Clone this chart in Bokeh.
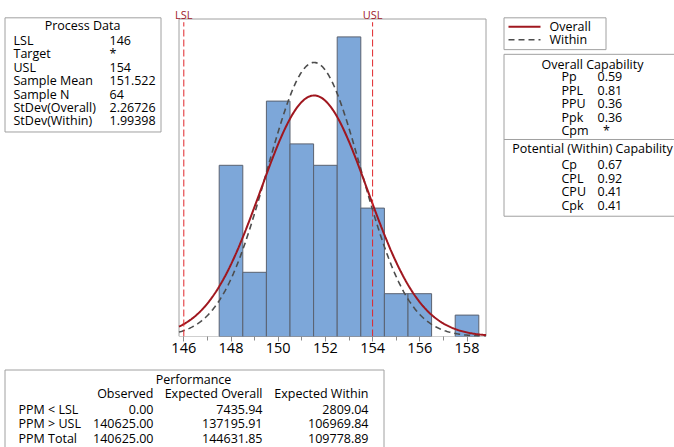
import numpy as np
from bokeh.plotting import figure
from bokeh.layouts import row, column
from bokeh.models import FixedTicker, ColumnDataSource, Range1d
from bokeh.core.properties import value
from bokeh.embed import file_html
from bokeh.resources import INLINE

# ---------------- data ----------------
bin_centers = [148, 149, 150, 151, 152, 153, 154, 155, 156, 157, 158]
bin_counts = [8, 3, 11, 9, 8, 14, 6, 2, 2, 0, 1]
bin_width = 1.0

spec_names = ["LSL", "USL"]
spec_values = [146, 154]
sample_mean = 151.522
sample_n = 64
stdev_overall = 2.26726
stdev_within = 1.99398

process_labels = ["LSL", "Target", "USL", "Sample Mean", "Sample N", "StDev(Overall)", "StDev(Within)"]
process_values = ["146", "*", "154", "151.522", "64", "2.26726", "1.99398"]

legend_labels = ["Overall", "Within"]

overall_labels = ["Pp", "PPL", "PPU", "Ppk", "Cpm"]
overall_values = ["0.59", "0.81", "0.36", "0.36", "*"]
within_labels = ["Cp", "CPL", "CPU", "Cpk"]
within_values = ["0.67", "0.92", "0.41", "0.41"]

perf_columns = ["Observed", "Expected Overall", "Expected Within"]
perf_rows = ["PPM < LSL", "PPM > USL", "PPM Total"]
perf_observed = ["0.00", "140625.00", "140625.00"]
perf_exp_overall = ["7435.94", "137195.91", "144631.85"]
perf_exp_within = ["2809.04", "106969.84", "109778.89"]

x_ticks = [146, 148, 150, 152, 154, 156, 158]
x_minor_ticks = [147, 149, 151, 153, 155, 157]

FONT = "Open Sans"
FS = "12.5px"
TXT = "#000000"
BORDER = "#a0a0a0"
C_OVER = "#A0171F"
C_WITH = "#4d4d4d"

W, H = 674, 447
FRAME_L, FRAME_R, FRAME_T, FRAME_B = 165, 490, 0, 336
TOP_H = 359


def panel(x0, x1, y0, y1):
    """Plain drawing panel whose data coordinates equal page pixel coordinates."""
    f = figure(output_backend="svg", toolbar_location=None,
               width=x1 - x0, height=y1 - y0,
               x_range=Range1d(x0, x1), y_range=Range1d(y1, y0),
               x_axis_location=None, y_axis_location=None,
               min_border=0, min_border_left=0, min_border_right=0,
               min_border_top=0, min_border_bottom=0)
    f.xgrid.visible = False
    f.ygrid.visible = False
    f.outline_line_color = None
    f.background_fill_color = "white"
    f.border_fill_color = "white"
    return f


def texts(f, xs, ys, labels, align="left", size=FS, color=TXT):
    f.text(x=xs, y=ys, text=labels, text_align=align, text_baseline="middle",
           text_font=value(FONT), text_font_size=size, text_color=color)


def box(f, l, t, r, b):
    f.quad(left=[l], right=[r], top=[t], bottom=[b], fill_color=None,
           line_color=BORDER, line_width=1)


# ---------------- histogram panel ----------------
PX_PER_X = 23.6
PX_PER_Y = 21.4
X0 = 146 - (183.3 - FRAME_L) / PX_PER_X
X1 = X0 + (FRAME_R - FRAME_L) / PX_PER_X
Y1 = (FRAME_B - FRAME_T) / PX_PER_Y
OUT_L = X0 + (178.5 - FRAME_L) / PX_PER_X
OUT_R = X0 + (485.5 - FRAME_L) / PX_PER_X
OUT_T = (FRAME_B - 18.5) / PX_PER_Y

p = figure(output_backend="svg", toolbar_location=None,
           frame_width=FRAME_R - FRAME_L, frame_height=FRAME_B - FRAME_T,
           min_border_left=0, min_border_right=0, min_border_top=0,
           min_border_bottom=TOP_H - FRAME_B,
           x_range=Range1d(X0, X1), y_range=Range1d(0, Y1),
           y_axis_location=None)
p.xgrid.visible = False
p.ygrid.visible = False
p.outline_line_color = None
p.background_fill_color = "white"
p.border_fill_color = "white"

ax = p.xaxis[0]
ax.ticker = FixedTicker(ticks=x_ticks, minor_ticks=x_minor_ticks)
ax.axis_line_color = None
ax.major_tick_line_color = "#8c8c8c"
ax.minor_tick_line_color = "#8c8c8c"
ax.major_tick_in = 0
ax.major_tick_out = 5
ax.minor_tick_in = 0
ax.minor_tick_out = 4
ax.major_label_standoff = 1
ax.major_label_text_font = FONT
ax.major_label_text_font_size = "14.5px"
ax.major_label_text_color = TXT

# plot outline box (top at page y 18)
p.quad(left=[OUT_L], right=[OUT_R], top=[OUT_T], bottom=[0], fill_color=None,
       line_color=BORDER, line_width=1)

cx = [c for c, n in zip(bin_centers, bin_counts) if n > 0]
cn = [n for n in bin_counts if n > 0]
src = ColumnDataSource(dict(left=[c - bin_width / 2 for c in cx],
                            right=[c + bin_width / 2 for c in cx], top=cn))
p.quad(left="left", right="right", top="top", bottom=0, source=src,
       fill_color="#7DA7D9", line_color="#5a6270", line_width=1)

# fitted normal curves (from the sample statistics)
xs = np.linspace(OUT_L, OUT_R, 300)
scale = sample_n * bin_width
y_over = scale * np.exp(-0.5 * ((xs - sample_mean) / stdev_overall) ** 2) / (stdev_overall * np.sqrt(2 * np.pi))
y_with = scale * np.exp(-0.5 * ((xs - sample_mean) / stdev_within) ** 2) / (stdev_within * np.sqrt(2 * np.pi))
p.line(xs, y_with, line_color=C_WITH, line_width=1.6, line_dash="6 4")
p.line(xs, y_over, line_color=C_OVER, line_width=2)

# spec limits
p.segment(x0=spec_values, x1=spec_values, y0=[0] * 2, y1=[OUT_T - 0.15] * 2,
          line_color="#E0262B", line_width=1, line_dash="7 3")
p.text(x=spec_values, y=[(FRAME_B - 13.5) / PX_PER_Y] * 2, text=spec_names,
       text_align="center", text_baseline="alphabetic", text_font=value(FONT),
       text_font_size="11px", text_color="#A0202A")

# ---------------- left panel: Process Data ----------------
A = panel(0, FRAME_L, 0, TOP_H)
box(A, 4.5, 18.5, 160.5, 140.5)
texts(A, [82], [26.5], ["Process Data"], align="center")
rows_y = [43, 57, 71.5, 86, 100, 114, 128.5]
texts(A, [13] * len(rows_y), rows_y, process_labels)
texts(A, [109] * len(rows_y), rows_y, process_values)

# ---------------- right panel: legend + capability ----------------
C = panel(FRAME_R, W, 0, TOP_H)
box(C, 503.5, 18.5, 605.5, 52.5)
C.line(x=[508, 540], y=[28, 28], line_color=C_OVER, line_width=2)
C.line(x=[508, 540], y=[42, 42], line_color=C_WITH, line_width=1.6, line_dash="6 4")
texts(C, [549, 549], [27.5, 42], legend_labels)

box(C, 503.5, 57.5, 690, 230.5)
C.segment(x0=[503.5], x1=[690], y0=[148.5], y1=[148.5], line_color=BORDER, line_width=1)
texts(C, [592], [68], ["Overall Capability"], align="center")
oy = [81, 96, 110, 125, 139]
texts(C, [561] * 5, oy, overall_labels)
num_idx = [i for i, v in enumerate(overall_values) if v != "*"]
star_idx = [i for i, v in enumerate(overall_values) if v == "*"]
texts(C, [597] * len(num_idx), [oy[i] for i in num_idx], [overall_values[i] for i in num_idx])
texts(C, [606] * len(star_idx), [oy[i] for i in star_idx], [overall_values[i] for i in star_idx],
      align="center")
texts(C, [592], [158], ["Potential (Within) Capability"], align="center")
wy = [175, 190, 204, 219]
texts(C, [561] * 4, wy, within_labels)
texts(C, [597] * 4, wy, within_values)

# ---------------- bottom panel: Performance ----------------
D = panel(0, W, TOP_H, H)
box(D, 4.5, 369.5, 383.5, 470)
texts(D, [193], [379], ["Performance"], align="center")
col_x = [153, 262, 368]
texts(D, col_x, [393] * 3, perf_columns, align="right")
ry = [409, 423, 438]
texts(D, [18] * 3, ry, perf_rows)
texts(D, [col_x[0]] * 3, ry, perf_observed, align="right")
texts(D, [col_x[1]] * 3, ry, perf_exp_overall, align="right")
texts(D, [col_x[2]] * 3, ry, perf_exp_within, align="right")

layout = column(row(A, p, C, spacing=0), D, spacing=0)
open("out.html", "w").write(file_html(layout, INLINE))
